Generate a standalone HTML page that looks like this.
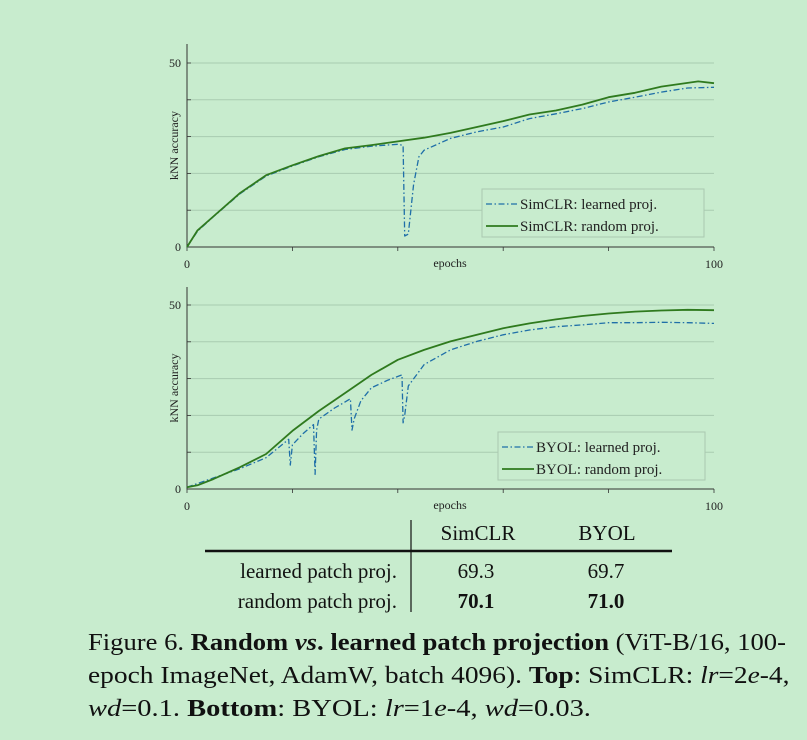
<!DOCTYPE html>
<html><head><meta charset="utf-8"><style>
html,body{margin:0;padding:0;background:#c8ecce;}
svg{display:block;font-family:"Liberation Serif",serif;}
</style></head><body>
<svg id="fig" width="807" height="740" viewBox="0 0 807 740" xmlns="http://www.w3.org/2000/svg">
<rect x="0" y="0" width="807" height="740" fill="#c8ecce"/>
<g id="top"></g>
<g id="bot"></g>
<g font-size="21" fill="#111">
<line x1="411" y1="520" x2="411" y2="612" stroke="#111" stroke-width="1.2"/>
<line x1="205" y1="551" x2="672" y2="551" stroke="#111" stroke-width="2.6"/>
<text x="478" y="540" text-anchor="middle">SimCLR</text>
<text x="607" y="540" text-anchor="middle">BYOL</text>
<text x="397" y="578" text-anchor="end">learned patch proj.</text>
<text x="476" y="578" text-anchor="middle">69.3</text>
<text x="606" y="578" text-anchor="middle">69.7</text>
<text x="397" y="608" text-anchor="end">random patch proj.</text>
<text x="476" y="608" text-anchor="middle" font-weight="bold">70.1</text>
<text x="606" y="608" text-anchor="middle" font-weight="bold">71.0</text>
</g>
<g font-size="24" fill="#111">
<text class="cap" data-w="698" x="0" y="0" transform="translate(88 650)">Figure 6.  <tspan font-weight="bold">Random </tspan><tspan font-weight="bold" font-style="italic">vs</tspan><tspan font-weight="bold">. learned patch projection</tspan> (ViT-B/16, 100-</text>
<text class="cap" data-w="702" x="0" y="0" transform="translate(88 683)">epoch ImageNet, AdamW, batch 4096). <tspan font-weight="bold">Top</tspan>: SimCLR: <tspan font-style="italic">lr</tspan>=2<tspan font-style="italic">e</tspan>-4,</text>
<text class="cap" data-w="503" x="0" y="0" transform="translate(88 716)"><tspan font-style="italic">wd</tspan>=0.1. <tspan font-weight="bold">Bottom</tspan>: BYOL: <tspan font-style="italic">lr</tspan>=1<tspan font-style="italic">e</tspan>-4, <tspan font-style="italic">wd</tspan>=0.03.</text>
</g>
</svg>
<script>
const yTicks=[0,10,20,30,40,50];
const xTicks=[0,20,40,60,80,100];
const topEpochs=[0,2,5,10,15,20,25,30,35,40,41,41.3,42,43,44,45,50,55,60,65,70,75,80,85,90,95,100];
const topLearned=[0,4.3,8.2,14.4,19.3,22,24.5,26.5,27.4,27.9,27.6,3,3.5,17,24.5,26.3,29.5,31.3,32.6,34.9,36.2,37.6,39.4,40.7,42.1,43.2,43.4];
const topRandomEpochs=[0,2,5,10,15,20,25,30,35,40,45,50,55,60,65,70,75,80,85,90,95,97,100];
const topRandom=[0,4.5,8.3,14.6,19.5,22.2,24.7,26.8,27.7,28.7,29.7,31,32.6,34.2,36,37.1,38.7,40.7,41.9,43.6,44.6,45,44.5];
const botLearnedEpochs=[0,5,10,15,19.3,19.6,20,22,24,24.3,24.6,25,28,31,31.3,31.7,33,35,38,40.8,41,41.3,42,45,50,55,60,65,70,75,80,85,90,95,100];
const botLearned=[0.5,3,5.5,8.5,13.5,6.5,12,15,17.5,4,16,19,22,24.5,16,19,24,27.5,29.5,31,18,20,28,33.8,37.8,40.1,41.9,43.2,44.1,44.6,45.2,45.2,45.3,45.2,45];
const botRandomEpochs=[0,2,5,10,15,20,25,30,35,40,45,50,55,60,65,70,75,80,85,90,95,100];
const botRandom=[0.5,1,2.7,5.9,9.5,15.8,21.2,26.1,31,35.1,37.8,40.1,41.9,43.7,45,46.1,47,47.7,48.2,48.5,48.7,48.6];
const NS="http://www.w3.org/2000/svg";
function mk(p,tag,attrs){const e=document.createElementNS(NS,tag);for(const k in attrs)e.setAttribute(k,attrs[k]);p.appendChild(e);return e;}
function drawChart(g,y0,y50,topY,series,legend){
  const xs=v=>187+v*(714-187)/100;
  const ys=v=>y0+v*(y50-y0)/50;
  yTicks.forEach(t=>{if(t>0){const l=mk(g,'line',{x1:187,x2:714,y1:ys(t),y2:ys(t),stroke:'#a9cbb0','stroke-width':1});
    
    }
    const tk=mk(g,'line',{x1:187,x2:191,y1:ys(t),y2:ys(t),stroke:'#333','stroke-width':0.8});
    
    
    if(t===0||t===50){const tx=mk(g,'text',{x:181,y:ys(t)+4,'text-anchor':'end','font-size':12,fill:'#222'});tx.textContent=t;
    
    }
  });
  xTicks.forEach(t=>{const tk=mk(g,'line',{x1:xs(t),x2:xs(t),y1:y0,y2:y0+4,stroke:'#333','stroke-width':0.8});
    
    
    if(t===0||t===100){const tx=mk(g,'text',{x:xs(t),y:y0+21,'text-anchor':'middle','font-size':12,fill:'#222'});tx.textContent=t;
    
    }
  });
  const ax=mk(g,'path',{d:`M187 ${topY} V${y0} H714`,fill:'none',stroke:'#333','stroke-width':1});
  
  
  const xl=mk(g,'text',{x:450,y:y0+20,'text-anchor':'middle','font-size':12,fill:'#222'});xl.textContent='epochs';
  
  
  const ym=(y0+topY)/2;
  const yl=mk(g,'text',{x:0,y:0,transform:`translate(178 ${ym}) rotate(-90)`,'text-anchor':'middle','font-size':12,fill:'#222'});yl.textContent='kNN accuracy';
  
  
  series.forEach(s=>{
    const d=s.x.map((e,i)=>(i?'L':'M')+xs(e).toFixed(1)+' '+ys(s.y[i]).toFixed(1)).join(' ');
    const p=mk(g,'path',{d:d,fill:'none',stroke:s.color,'stroke-width':s.w,'stroke-dasharray':s.dash||'none','stroke-linejoin':'round'});
    
    
  });
  const lb=mk(g,'rect',{x:legend.x,y:legend.y,width:legend.w,height:legend.h,fill:'#c8ecce',stroke:'#aac8b0','stroke-width':1});
  
  
  series.forEach((s,i)=>{const yy=legend.y+15+i*22;
    const l=mk(g,'line',{x1:legend.x+4,x2:legend.x+36,y1:yy,y2:yy,stroke:s.color,'stroke-width':s.w,'stroke-dasharray':s.dash||'none'});
    
    
    const t=mk(g,'text',{x:legend.x+38,y:yy+5,'font-size':15,fill:'#222'});t.textContent=s.label;
    
    
  });
}
const blue='#1f6fa8',green='#2f7a1e';
drawChart(document.getElementById('top'),247,63,44,[
 {x:topEpochs,y:topLearned,color:blue,w:1.3,dash:'6 2.5 1.5 2.5',name:'simclr-learned-line',label:'SimCLR: learned proj.'},
 {x:topRandomEpochs,y:topRandom,color:green,w:1.8,name:'simclr-random-line',label:'SimCLR: random proj.'}],
 {x:482,y:189,w:222,h:48});
drawChart(document.getElementById('bot'),489,305,287,[
 {x:botLearnedEpochs,y:botLearned,color:blue,w:1.3,dash:'6 2.5 1.5 2.5',name:'byol-learned-line',label:'BYOL: learned proj.'},
 {x:botRandomEpochs,y:botRandom,color:green,w:1.8,name:'byol-random-line',label:'BYOL: random proj.'}],
 {x:498,y:432,w:207,h:48});
document.querySelectorAll('text.cap').forEach(t=>{
  const w=t.getComputedTextLength();const target=+t.getAttribute('data-w');
  if(w>0){const tr=t.getAttribute('transform');t.setAttribute('transform',tr+' scale('+(target/w).toFixed(4)+' 1)');}
});
</script>
</body></html>
